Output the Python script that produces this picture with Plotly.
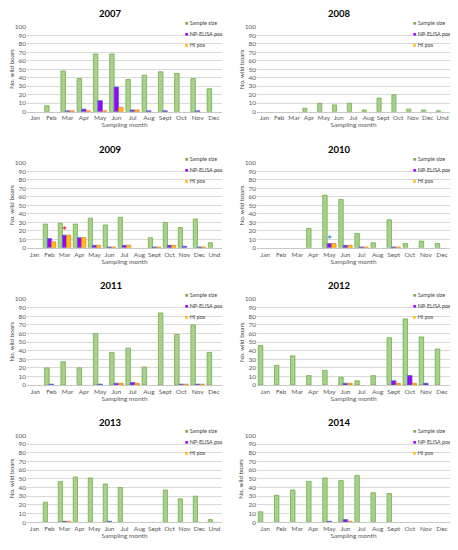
import plotly.graph_objects as go
from plotly.subplots import make_subplots

MONTHS = ["Jan", "Feb", "Mar", "Apr", "May", "Jun", "Jul", "Aug", "Sept", "Oct", "Nov", "Dec"]
MONTHS_UND = MONTHS + ["Und"]

years = [2007, 2008, 2009, 2010, 2011, 2012, 2013, 2014]

sample_2007 = [0, 7, 48, 39, 68, 68, 38, 43, 47, 45, 39, 27]
np_2007 = [0, 0, 1, 3, 13, 29, 2, 1, 1, 0, 1, 0]
hi_2007 = [0, 0, 1, 1, 1, 5, 2, 0, 0, 0, 0, 0]

sample_2008 = [0, 0, 0, 4, 10, 8, 10, 2, 16, 20, 3, 2, 1]
np_2008 = [0, 0, 0, 0, 0, 0, 0, 0, 0, 0, 0, 0, 0]
hi_2008 = [0, 0, 0, 0, 0, 0, 0, 0, 0, 0, 0, 0, 0]

sample_2009 = [0, 28, 29, 28, 35, 27, 36, 0, 12, 30, 24, 34, 6]
np_2009 = [0, 11, 15, 12, 3, 1, 3, 0, 1, 3, 2, 1, 0]
hi_2009 = [0, 7, 15, 12, 3, 1, 3, 0, 1, 3, 0, 1, 0]

sample_2010 = [0, 0, 0, 23, 62, 57, 17, 6, 33, 5, 8, 5]
np_2010 = [0, 0, 0, 0, 5, 3, 1, 0, 1, 0, 0, 0]
hi_2010 = [0, 0, 0, 0, 5, 3, 1, 0, 1, 0, 0, 0]

sample_2011 = [0, 20, 27, 20, 60, 38, 43, 21, 84, 59, 70, 38]
np_2011 = [0, 1, 0, 0, 1, 2, 3, 0, 0, 1, 1, 0]
hi_2011 = [0, 0, 0, 0, 0, 2, 2, 0, 0, 1, 1, 0]

sample_2012 = [46, 23, 34, 11, 17, 9, 5, 11, 55, 77, 56, 42]
np_2012 = [0, 0, 0, 0, 0, 2, 0, 0, 5, 11, 2, 0]
hi_2012 = [0, 0, 0, 0, 0, 2, 0, 0, 2, 2, 0, 0]

sample_2013 = [0, 23, 47, 52, 51, 44, 40, 0, 0, 37, 27, 30, 3]
np_2013 = [0, 0, 1, 0, 0, 1, 0, 0, 0, 0, 0, 0, 0]
hi_2013 = [0, 0, 1, 0, 0, 0, 0, 0, 0, 0, 0, 0, 0]

sample_2014 = [12, 31, 37, 47, 51, 48, 54, 34, 33, 0, 0, 0]
np_2014 = [0, 0, 0, 0, 1, 3, 0, 0, 0, 0, 0, 0]
hi_2014 = [0, 0, 0, 0, 0, 1, 0, 0, 0, 0, 0, 0]

panels = {
    2007: (MONTHS, sample_2007, np_2007, hi_2007),
    2008: (MONTHS_UND, sample_2008, np_2008, hi_2008),
    2009: (MONTHS_UND, sample_2009, np_2009, hi_2009),
    2010: (MONTHS, sample_2010, np_2010, hi_2010),
    2011: (MONTHS, sample_2011, np_2011, hi_2011),
    2012: (MONTHS, sample_2012, np_2012, hi_2012),
    2013: (MONTHS_UND, sample_2013, np_2013, hi_2013),
    2014: (MONTHS, sample_2014, np_2014, hi_2014),
}

# significance marks: (year, month, bar top, colour)
stars = [(2009, "Mar", 15, "#ff1a1a"), (2010, "May", 5, "#3f8fe0")]

series_names = ["Sample size", "NP-ELISA pos", "HI pos"]
fills = ["#a9d18e", "#a000ff", "#ffc000"]
edges = ["#70ad47", "#4472c4", "#ed7d31"]

# page body has an 8px margin, so the figure is kept inside it
OFF = 8
W, H = 442, 534
FONT = "Lato, Open Sans, sans-serif"
col_x = [(27, 222), (257, 450)]
row_y = [(23, 109), (161, 247), (299, 386), (437, 525)]


def px(x):
    return (x - OFF) / W


def py(y):
    return 1 - (y - OFF) / H


fig = make_subplots(rows=4, cols=2)

annotations = []
for i, yr in enumerate(years):
    r, c = i // 2, i % 2
    cats, s, n, h = panels[yr]
    for vals, name, fc, ec in zip((s, n, h), series_names, fills, edges):
        # empty months get no bar at all
        fig.add_trace(go.Bar(x=cats, y=[v if v else None for v in vals], name=name,
                             showlegend=False,
                             marker=dict(color=fc, line=dict(color=ec, width=0.8))),
                      row=r + 1, col=c + 1)
    x0, x1 = col_x[c]
    top, bot = row_y[r]
    ax = "" if i == 0 else str(i + 1)
    fig.layout["xaxis" + ax].update(
        domain=[px(x0), px(x1)], type="category", categoryarray=cats,
        showgrid=False, showline=True, linecolor="#c8c8c8", linewidth=0.8,
        tickfont=dict(size=6.5, color="#595959"), ticks="",
        title=dict(text="Sampling month", font=dict(size=6.5, color="#595959"), standoff=1))
    fig.layout["yaxis" + ax].update(
        domain=[py(bot), py(top)], range=[0, 100], dtick=10,
        showgrid=True, gridcolor="#d9d9d9", gridwidth=0.7, zeroline=False,
        tickfont=dict(size=6.5, color="#595959"), ticks="")
    # y title
    annotations.append(dict(text="No. wild boars", xref="paper", yref="paper",
                            x=px(11.5) if c == 0 else px(241), y=py((top + bot) / 2),
                            textangle=-90, showarrow=False,
                            font=dict(size=6.3, color="#404040"),
                            xanchor="center", yanchor="middle"))
    # panel title
    annotations.append(dict(text="<b>%d</b>" % yr, xref="paper", yref="paper",
                            x=px((x0 + x1) / 2 - 14), y=py(top - 13.5),
                            showarrow=False, font=dict(size=9.5, color="black"),
                            xanchor="center", yanchor="middle"))
    # legend
    for k, (name, fc, ec) in enumerate(zip(series_names, fills, edges)):
        annotations.append(dict(
            text='<span style="color:%s">■</span> %s' % (fc if k else ec, name),
            xref="paper", yref="paper", x=px(x1 - 39), y=py(top - 4 + 11 * k),
            showarrow=False, font=dict(size=5.4, color="#404040"),
            xanchor="left", yanchor="middle"))

for yr, month, val, color in stars:
    i = years.index(yr)
    ax = "" if i == 0 else str(i + 1)
    annotations.append(dict(text="<b>*</b>", xref="x" + ax, yref="y" + ax,
                            x=month, y=val, showarrow=False, yanchor="bottom",
                            yshift=-5, font=dict(size=12, color=color)))

fig.update_layout(
    width=W, height=H, autosize=False,
    margin=dict(l=0, r=0, t=0, b=0),
    paper_bgcolor="white", plot_bgcolor="white",
    barmode="group", bargap=0.17, bargroupgap=0,
    font=dict(family=FONT),
    annotations=annotations,
)

fig.write_html("out.html")
